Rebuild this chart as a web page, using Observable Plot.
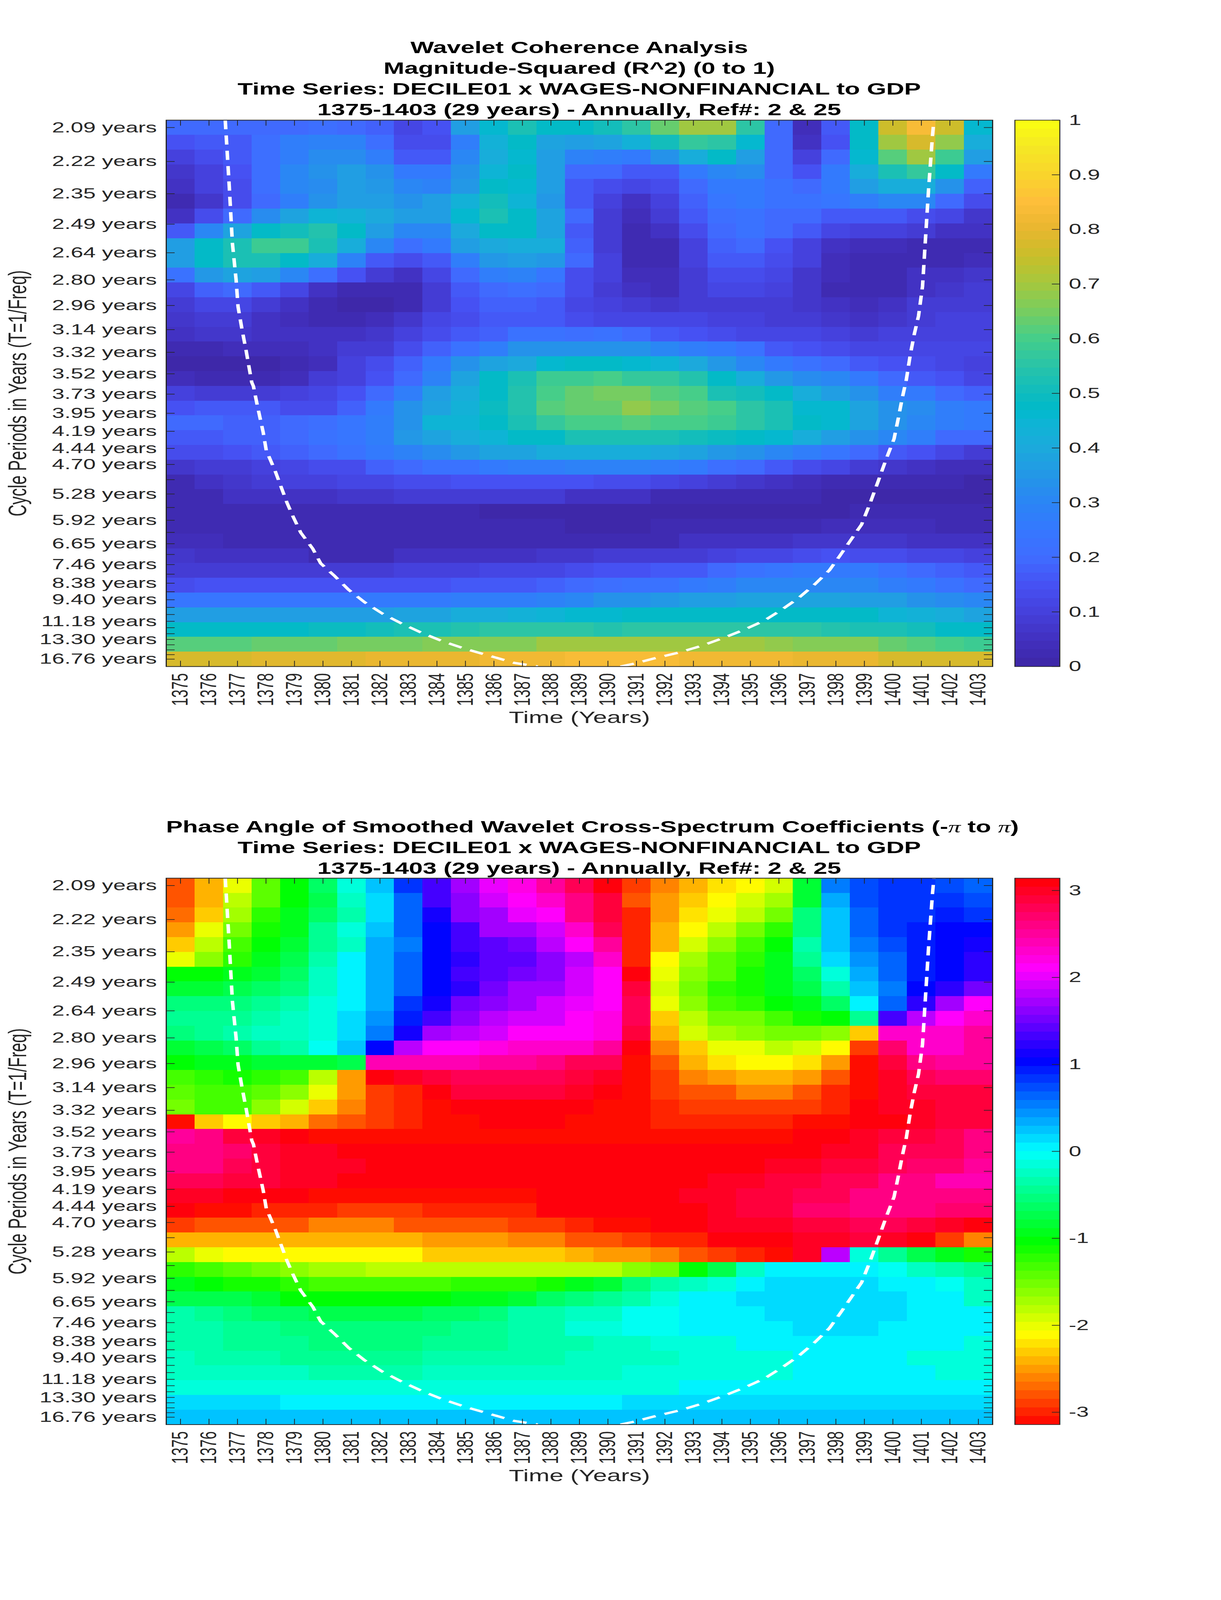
<!DOCTYPE html>
<html><head><meta charset="utf-8">
<script src="https://cdn.jsdelivr.net/npm/d3@7"></script>
<script src="https://cdn.jsdelivr.net/npm/@observablehq/plot@0.6"></script>
<style>
html,body{margin:0;padding:0;background:#fff;overflow:hidden}
/* Layout is authored at the reference's 3125x6252. The capture window was measured at 3125x4096,
   so the stage is compressed vertically only when the window is shorter than 6252. */
#stage{position:absolute;left:0;top:0;width:3125px;height:6252px;transform-origin:0 0;font-family:"Liberation Sans",Arial,sans-serif}
.t{position:absolute;left:425px;width:2115px;text-align:center;font-weight:bold;font-size:63.8px;line-height:81px;color:#000;white-space:nowrap}
.part{position:absolute}
.pi{font-family:"Liberation Serif",serif;font-style:italic;font-weight:normal}
</style></head><body>
<div id="stage">
<div class="t" style="top:146px">Wavelet Coherence Analysis<br>Magnitude-Squared (R^2) (0 to 1)<br>Time Series: DECILE01 x WAGES-NONFINANCIAL to GDP<br>1375-1403 (29 years) - Annually, Ref#: 2 &amp; 25</div>
<div class="t" style="top:3190px">Phase Angle of Smoothed Wavelet Cross-Spectrum Coefficients (-<span class="pi">π</span> to <span class="pi">π</span>)<br>Time Series: DECILE01 x WAGES-NONFINANCIAL to GDP<br>1375-1403 (29 years) - Annually, Ref#: 2 &amp; 25</div>
</div>
<script>
const years=[1375,1376,1377,1378,1379,1380,1381,1382,1383,1384,1385,1386,1387,1388,1389,1390,1391,1392,1393,1394,1395,1396,1397,1398,1399,1400,1401,1402,1403];
const periodTicks=[2.095,2.219,2.351,2.491,2.639,2.796,2.963,3.139,3.325,3.523,3.733,3.955,4.190,4.439,4.703,4.983,5.279,5.593,5.925,6.278,6.651,7.047,7.465,7.909,8.380,8.878,9.405,9.965,10.558,11.185,11.850,12.555,13.302,14.093,14.931,15.819,16.759];
const periodLabels=["2.09 years","2.22 years","2.35 years","2.49 years","2.64 years","2.80 years","2.96 years","3.14 years","3.32 years","3.52 years","3.73 years","3.95 years","4.19 years","4.44 years","4.70 years","","5.28 years","","5.92 years","","6.65 years","","7.46 years","","8.38 years","","9.40 years","","","11.18 years","","","13.30 years","","","","16.76 years"];
const coherenceTicks=[0,0.1,0.2,0.3,0.4,0.5,0.6,0.7,0.8,0.9,1];
const phaseTicks=[-3,-2,-1,0,1,2,3];
const coiYears=[1376.57,1376.71,1376.82,1376.95,1377.02,1377.16,1377.30,1377.50,1377.56,1377.69,1377.90,1378.01,1378.32,1378.53,1378.74,1378.95,1379.22,1379.64,1379.92,1380.41,1380.90,1381.46,1382.09,1382.79,1383.49,1384.19,1385.02,1385.86,1386.70,1387.54,null,1390.44,1390.87,1391.65,1392.50,1393.29,1394.07,1394.78,1395.49,1396.13,1396.70,1397.27,1397.77,1398.12,1398.48,1398.90,1399.19,1399.47,1399.76,1400.04,1400.19,1400.33,1400.47,1400.61,1400.75,1400.90,1401.04,1401.11,1401.18,1401.25,1401.32,1401.39,1401.44];
const coiFreq=[.4832,.4316,.3868,.3580,.3365,.3185,.3024,.2772,.2740,.2596,.2381,.2237,.2076,.1950,.1824,.1717,.1591,.1465,.1349,.1250,.1142,.1044,.0954,.0873,.0801,.0738,.0676,.0622,.0568,.0539,null,.0539,.0559,.0604,.0649,.0702,.0765,.0828,.0900,.0990,.1079,.1187,.1295,.1403,.1519,.1654,.1816,.1986,.2166,.2327,.2489,.2650,.2790,.2988,.3149,.3293,.3526,.3778,.4029,.4280,.4496,.4711,.4832];
const parulaStops=[0,.05,.1,.15,.2,.25,.3,.35,.4,.45,.47,.5,.55,.6,.65,.7,.75,.8,.85,.9,.95,1];
const parulaColors=["#3D26A5","#4230C0","#4540DC","#4652F4","#3F6CFF","#3578FF","#2B85F5","#2397E6","#1CAADC","#0CB5D4","#00BACA","#0FBCBE","#29C4A8","#44CE8A","#78CD60","#A4C83E","#C8BE2A","#E8B62F","#FEBE3A","#F9D52C","#F5E824","#FAFF10"];
const coherence=[
[.19,.19,.19,.2,.2,.21,.2,.18,.12,.15,.36,.46,.52,.47,.47,.5,.56,.63,.7,.7,.56,.2,.04,.17,.48,.76,.83,.75,.46],
[.15,.16,.17,.21,.27,.29,.29,.21,.14,.14,.27,.43,.47,.38,.37,.39,.43,.5,.57,.56,.46,.2,.06,.15,.47,.69,.77,.68,.42],
[.1,.13,.16,.21,.27,.32,.32,.27,.17,.17,.3,.42,.46,.36,.29,.28,.25,.33,.41,.47,.37,.19,.1,.2,.46,.62,.7,.58,.36],
[.07,.1,.15,.21,.3,.33,.36,.33,.25,.25,.33,.44,.47,.36,.2,.2,.16,.17,.25,.3,.32,.19,.15,.25,.41,.53,.57,.47,.25],
[.06,.1,.14,.21,.3,.32,.37,.35,.3,.29,.35,.47,.46,.36,.16,.14,.11,.13,.2,.25,.26,.22,.19,.26,.37,.42,.42,.33,.18],
[.03,.07,.13,.2,.28,.33,.36,.36,.33,.37,.43,.5,.44,.35,.16,.1,.06,.1,.18,.24,.26,.23,.22,.24,.28,.3,.3,.2,.14],
[.05,.14,.2,.32,.38,.44,.43,.4,.37,.37,.46,.53,.47,.38,.19,.09,.04,.08,.16,.21,.23,.2,.19,.17,.16,.16,.14,.11,.07],
[.16,.3,.39,.47,.5,.54,.47,.37,.3,.3,.4,.48,.47,.39,.17,.09,.03,.06,.13,.2,.22,.19,.16,.12,.1,.1,.08,.06,.05],
[.36,.47,.52,.58,.58,.53,.41,.31,.21,.25,.36,.4,.41,.41,.18,.09,.03,.03,.1,.18,.2,.15,.1,.06,.04,.04,.03,.03,.02],
[.36,.47,.53,.53,.47,.42,.29,.17,.13,.17,.27,.35,.37,.35,.19,.1,.03,.03,.1,.16,.16,.13,.1,.04,.02,.02,.03,.03,.04],
[.22,.35,.38,.36,.3,.21,.15,.08,.06,.12,.2,.27,.29,.24,.14,.1,.04,.04,.08,.14,.14,.11,.07,.04,.03,.03,.05,.06,.07],
[.11,.18,.2,.16,.12,.05,.03,.02,.03,.09,.16,.2,.21,.2,.13,.09,.06,.04,.08,.12,.12,.1,.07,.03,.02,.03,.05,.07,.09],
[.08,.11,.11,.08,.05,.02,.01,.01,.03,.09,.15,.18,.18,.16,.12,.1,.08,.07,.08,.08,.09,.09,.07,.05,.04,.05,.08,.08,.09],
[.07,.08,.08,.06,.04,.03,.02,.04,.07,.11,.14,.16,.17,.16,.14,.12,.12,.11,.11,.1,.1,.09,.08,.07,.06,.07,.09,.1,.1],
[.06,.07,.07,.06,.05,.05,.05,.07,.1,.14,.17,.18,.22,.22,.21,.22,.2,.17,.15,.14,.12,.11,.11,.1,.09,.1,.1,.1,.1],
[.03,.03,.04,.04,.04,.05,.08,.09,.13,.18,.23,.28,.33,.34,.34,.33,.33,.3,.28,.25,.22,.17,.15,.13,.11,.11,.11,.11,.11],
[.01,.01,.01,.01,.02,.04,.1,.14,.18,.25,.33,.38,.4,.46,.47,.47,.46,.45,.4,.35,.3,.26,.22,.19,.16,.15,.13,.12,.1],
[.04,.03,.03,.03,.04,.09,.1,.15,.2,.29,.38,.47,.52,.58,.58,.6,.57,.57,.54,.47,.42,.35,.32,.3,.26,.2,.17,.15,.12],
[.1,.09,.09,.09,.1,.12,.15,.19,.27,.36,.42,.47,.54,.6,.63,.65,.65,.62,.6,.53,.5,.47,.41,.37,.33,.28,.25,.2,.18],
[.15,.16,.16,.16,.14,.14,.18,.26,.33,.39,.43,.49,.54,.61,.64,.64,.68,.65,.62,.6,.56,.53,.46,.46,.38,.34,.32,.28,.25],
[.2,.19,.18,.18,.2,.21,.24,.28,.33,.45,.45,.48,.53,.57,.6,.6,.62,.6,.6,.58,.55,.53,.48,.46,.38,.34,.31,.28,.25],
[.17,.17,.18,.18,.2,.22,.24,.28,.35,.38,.42,.44,.47,.48,.52,.52,.52,.52,.51,.49,.48,.46,.42,.36,.34,.31,.27,.2,.19],
[.13,.14,.15,.16,.18,.19,.22,.26,.29,.32,.35,.38,.39,.41,.42,.41,.41,.4,.39,.35,.33,.3,.27,.24,.2,.16,.15,.11,.09],
[.07,.08,.09,.1,.12,.13,.14,.18,.19,.22,.23,.25,.28,.28,.29,.29,.29,.28,.25,.21,.19,.16,.13,.11,.08,.07,.05,.04,.04],
[.03,.05,.07,.09,.1,.1,.11,.12,.13,.14,.15,.15,.15,.15,.15,.13,.13,.11,.1,.08,.07,.05,.04,.03,.03,.02,.02,.02,.01],
[.03,.03,.05,.05,.05,.05,.07,.07,.08,.08,.08,.08,.08,.08,.06,.06,.05,.03,.03,.02,.02,.02,.02,.01,.01,.01,.01,.01,.01],
[.03,.03,.03,.03,.03,.02,.02,.02,.02,.02,.02,.01,.01,.01,.01,.01,.01,.01,.01,.01,.01,.01,.01,.01,.02,.02,.02,.02,.02],
[.02,.02,.02,.02,.02,.02,.02,.02,.02,.02,.02,.02,.02,.02,.005,0,0,.02,.02,.02,.03,.03,.03,.04,.04,.04,.04,.03,.03],
[.04,.04,.02,.02,.02,.02,.02,.02,.02,.02,.02,.02,.02,.02,.03,.02,.02,.03,.05,.05,.06,.06,.07,.07,.07,.07,.06,.06,.05],
[.07,.05,.05,.05,.05,.03,.03,.03,.05,.05,.05,.05,.05,.07,.07,.08,.09,.09,.09,.1,.12,.12,.14,.15,.14,.13,.12,.11,.1],
[.09,.09,.09,.09,.08,.08,.08,.08,.1,.1,.1,.11,.12,.12,.13,.15,.15,.16,.17,.2,.22,.24,.25,.25,.25,.23,.2,.18,.16],
[.14,.15,.15,.15,.15,.15,.15,.15,.15,.15,.16,.16,.17,.18,.19,.21,.22,.23,.25,.27,.3,.3,.31,.3,.3,.28,.26,.23,.2],
[.24,.24,.24,.24,.24,.24,.24,.25,.26,.26,.27,.28,.28,.29,.31,.33,.34,.35,.37,.37,.38,.38,.38,.38,.37,.36,.34,.32,.3],
[.36,.36,.36,.36,.36,.36,.37,.37,.38,.38,.41,.42,.43,.44,.46,.46,.47,.47,.47,.47,.48,.48,.47,.47,.47,.44,.43,.41,.38],
[.47,.47,.47,.47,.47,.49,.49,.5,.52,.53,.54,.55,.55,.56,.56,.54,.55,.55,.55,.55,.55,.55,.56,.54,.53,.52,.5,.48,.47],
[.61,.61,.61,.64,.64,.64,.65,.65,.65,.67,.67,.67,.67,.69,.7,.7,.7,.7,.7,.69,.69,.68,.67,.66,.66,.63,.62,.6,.58],
[.77,.77,.77,.79,.79,.79,.79,.8,.81,.81,.81,.82,.82,.82,.83,.83,.83,.83,.82,.82,.82,.82,.8,.8,.8,.77,.77,.77,.77]
];
const phase=[
[-2.76,-2.36,-1.97,-1.45,-1.05,-.65,-.17,.26,.79,1.35,1.75,2.0,2.2,2.55,2.8,3.1,-2.85,-2.6,-2.4,-2.2,-2.1,-1.95,-.79,.5,.7,.8,.8,.72,.62],
[-2.8,-2.4,-1.83,-1.4,-1.05,-.7,-.25,.1,.6,1.3,1.65,1.95,2.1,2.3,2.65,2.9,-2.8,-2.5,-2.35,-2.1,-1.95,-1.75,-.85,.33,.7,.8,.8,.8,.7],
[-2.7,-2.3,-1.75,-1.25,-.95,-.6,-.3,.1,.6,1.15,1.6,1.75,2.0,2.15,2.6,2.85,-2.95,-2.55,-2.25,-2.0,-1.85,-1.5,-.55,.25,.6,.8,.8,.95,.85],
[-2.5,-2.05,-1.55,-1.15,-.9,-.45,-.15,.25,.6,1.05,1.3,1.7,1.7,1.95,2.3,2.75,-2.95,-2.45,-2.15,-1.85,-1.5,-1.2,-.5,.2,.6,.8,.98,1.05,1.05],
[-2.3,-1.85,-1.3,-1.05,-.8,-.45,-.2,.3,.5,1.0,1.3,1.4,1.55,1.85,2.1,2.55,-2.95,-2.4,-1.95,-1.6,-1.3,-1.05,-.35,.2,.5,.7,.95,1.05,1.1],
[-1.97,-1.6,-1.25,-.95,-.75,-.3,0,.3,.65,1.05,1.2,1.4,1.45,1.65,1.85,2.3,-2.95,-2.1,-1.7,-1.45,-1.2,-.95,-.4,.1,.4,.65,.95,1.05,1.2],
[-1.05,-1.05,-.95,-.8,-.6,-.2,0,.3,.65,1.05,1.3,1.4,1.5,1.65,1.9,2.1,3.14,-2.05,-1.65,-1.4,-1.15,-.95,-.6,-.1,.3,.6,.95,1.05,1.25],
[-.85,-.8,-.75,-.6,-.5,-.2,0,.3,.65,1.05,1.25,1.55,1.7,1.75,1.9,2.15,2.85,-1.9,-1.5,-1.25,-1.15,-.95,-.75,-.3,.25,.55,1.05,1.25,1.55],
[-.55,-.5,-.5,-.4,-.3,-.1,0,.3,.8,1.15,1.55,1.65,1.75,1.9,2.0,2.15,2.75,-2.05,-1.6,-1.35,-1.2,-1.05,-.95,-.65,0,.6,1.2,1.75,2.1],
[-.45,-.45,-.45,-.3,-.25,-.1,.1,.4,.9,1.35,1.65,1.85,1.9,1.95,2.1,2.25,2.75,-2.3,-1.8,-1.55,-1.55,-1.35,-1.15,-1.05,-.4,1.3,1.85,2.15,2.3],
[-.55,-.4,-.3,-.25,-.2,-.1,.1,.55,1.15,1.7,1.85,1.95,2.1,2.1,2.1,2.25,2.85,-2.45,-1.95,-1.7,-1.6,-1.55,-1.5,-1.65,-2.3,2.3,2.3,2.3,2.5],
[-.8,-.7,-.6,-.45,-.35,-.05,.2,1.05,1.85,2.1,2.15,2.2,2.3,2.3,2.35,2.55,3.1,-2.6,-2.3,-2.05,-1.97,-1.85,-1.95,-2.15,-2.85,2.7,2.35,2.35,2.5],
[-1.05,-.95,-.95,-.85,-.8,-.8,-.75,2.45,2.45,2.45,2.45,2.5,2.5,2.6,2.75,2.8,-3.14,-2.8,-2.4,-2.2,-2.1,-2.1,-2.25,-2.55,-3.05,2.9,2.6,2.55,2.55],
[-1.35,-1.25,-1.15,-1.25,-1.35,-1.8,-2.55,3.14,2.95,2.85,2.8,2.8,2.8,2.8,2.85,3.0,-3.05,-2.85,-2.6,-2.55,-2.4,-2.4,-2.5,-2.8,-3.05,2.95,2.75,2.7,2.7],
[-1.45,-1.35,-1.35,-1.45,-1.6,-2.05,-2.55,-2.9,-3.0,3.05,2.9,2.9,2.9,2.9,2.95,3.05,-3.05,-2.85,-2.75,-2.75,-2.65,-2.65,-2.75,-3.0,-3.1,3.0,2.85,2.85,2.85],
[-1.55,-1.35,-1.3,-1.6,-1.95,-2.3,-2.65,-2.85,-3.0,-3.05,3.14,3.14,3.14,3.14,3.14,-3.05,-3.05,-2.95,-2.85,-2.85,-2.85,-2.85,-2.85,-3.0,3.14,3.0,2.95,2.9,2.9],
[-3.05,-2.35,-2.15,-2.35,-2.45,-2.7,-2.8,-2.9,-3.0,-3.05,-3.05,3.14,3.14,3.14,-3.05,-3.05,-3.05,-2.95,-2.95,-2.95,-2.95,-2.95,-3.05,-3.05,3.14,3.05,2.95,2.9,2.9],
[2.5,2.6,2.9,3.0,3.14,-3.05,-3.05,-3.05,-3.05,-3.05,-3.05,-3.05,-3.05,-3.05,-3.05,-3.05,-3.05,-3.05,-3.05,-3.05,-3.05,-3.05,3.14,3.14,3.0,2.9,2.85,2.8,2.65],
[2.6,2.6,2.7,2.85,3.0,3.0,3.14,3.14,3.14,3.14,3.14,3.14,3.14,3.14,3.14,3.14,3.14,3.14,3.14,3.14,3.14,3.05,3.05,2.95,2.95,2.8,2.75,2.75,2.6],
[2.6,2.6,2.75,2.85,2.95,3.0,3.0,3.14,3.14,3.14,3.14,3.14,3.14,3.14,3.14,3.14,3.14,3.05,3.05,3.05,3.05,2.95,2.95,2.9,2.9,2.75,2.7,2.7,2.5],
[2.75,2.75,2.9,2.9,3.0,3.0,3.14,3.14,3.14,3.14,3.14,3.14,3.14,3.14,3.14,3.14,3.05,3.05,3.05,2.95,2.95,2.85,2.85,2.75,2.75,2.6,2.6,2.45,2.45],
[3.0,3.0,3.05,3.14,3.14,-3.05,-3.05,-3.05,-3.05,-3.05,-3.05,-3.05,-3.05,3.14,3.14,3.14,3.05,3.05,2.95,2.95,2.9,2.9,2.75,2.75,2.65,2.65,2.65,2.6,2.6],
[3.14,-3.05,-3.05,-2.95,-2.95,-2.95,-2.85,-2.85,-2.85,-2.95,-2.95,-2.95,-2.95,3.14,3.14,3.14,3.14,3.05,3.05,2.95,2.9,2.85,2.7,2.7,2.6,2.6,2.6,2.7,2.7],
[-2.85,-2.75,-2.75,-2.75,-2.75,-2.65,-2.65,-2.65,-2.75,-2.75,-2.75,-2.75,-2.85,-2.85,-2.95,-3.05,-3.05,3.14,3.14,3.0,2.95,2.95,2.85,2.85,2.75,2.75,2.85,3.0,3.1],
[-2.45,-2.45,-2.45,-2.45,-2.45,-2.45,-2.45,-2.45,-2.45,-2.55,-2.55,-2.55,-2.65,-2.65,-2.75,-2.8,-2.85,-2.95,-3.0,3.14,3.05,3.05,3.0,3.0,2.9,3.0,3.14,-2.85,-2.6],
[-1.85,-1.97,-2.1,-2.1,-2.1,-2.15,-2.15,-2.15,-2.15,-2.3,-2.3,-2.35,-2.35,-2.35,-2.45,-2.55,-2.55,-2.6,-2.75,-2.85,-2.95,-3.05,3.0,1.85,-.15,-.45,-.7,-.95,-1.15],
[-1.2,-1.35,-1.45,-1.55,-1.6,-1.75,-1.75,-1.85,-1.85,-1.85,-1.85,-1.85,-1.85,-1.85,-1.85,-1.8,-1.65,-1.5,-1.05,-.75,-.25,0,0,0,0,-.08,-.2,-.3,-.45],
[-.9,-1.05,-1.1,-1.15,-1.2,-1.3,-1.3,-1.3,-1.3,-1.3,-1.2,-1.2,-1.2,-1.1,-.95,-.8,-.55,-.3,-.25,-.12,0,.1,.1,.1,.1,0,0,-.07,-.25],
[-.75,-.7,-.7,-.85,-1.0,-1.0,-1.05,-1.05,-1.05,-1.0,-.95,-.95,-.85,-.6,-.5,-.4,-.3,-.1,0,0,.1,.1,.1,.1,.1,.1,0,0,-.2],
[-.35,-.4,-.5,-.6,-.65,-.75,-.75,-.75,-.75,-.6,-.6,-.5,-.35,-.35,-.25,-.2,-.05,-.05,0,0,0,.1,.1,.1,.1,.1,0,0,0],
[-.35,-.35,-.4,-.4,-.55,-.55,-.55,-.55,-.55,-.55,-.4,-.4,-.3,-.3,-.15,-.15,-.05,-.05,0,0,0,0,.1,.1,.1,0,0,0,0],
[-.35,-.35,-.4,-.4,-.45,-.5,-.5,-.5,-.5,-.4,-.4,-.4,-.3,-.3,-.3,-.2,-.2,-.1,-.1,-.1,0,0,0,0,0,0,0,0,-.1],
[-.2,-.35,-.35,-.35,-.45,-.45,-.45,-.45,-.45,-.35,-.35,-.35,-.35,-.35,-.2,-.22,-.22,-.25,-.12,-.12,-.12,-.1,0,0,0,0,-.1,-.1,-.1],
[-.25,-.25,-.25,-.25,-.25,-.35,-.35,-.35,-.35,-.25,-.25,-.25,-.25,-.25,-.25,-.2,-.12,-.12,-.12,-.12,-.12,-.12,0,0,0,0,0,-.12,-.12],
[-.12,-.12,-.12,-.12,-.12,-.12,-.12,-.12,-.12,-.12,-.12,-.12,-.12,-.12,-.12,-.1,-.1,-.1,0,0,0,0,0,0,0,0,0,0,0],
[.1,.1,.1,.1,0,0,0,0,0,0,0,0,0,0,0,0,.1,.1,.1,.1,.1,.1,.1,.1,.1,.1,.1,.1,.1],
[.22,.22,.22,.22,.22,.22,.22,.22,.22,.22,.22,.22,.22,.22,.22,.22,.22,.22,.22,.22,.22,.22,.22,.22,.22,.22,.22,.22,.22]
];

const stage=document.getElementById("stage");
const fitY=Math.min(1,window.innerHeight/6252);
stage.style.transform=`scale(1,${fitY})`;
document.body.style.height=(6252*fitY)+"px";

const INK="#262626", FONT='"Liberation Sans",Arial,sans-serif';
const BANDS=64;
const parula=d3.scaleLinear().domain(parulaStops).range(parulaColors);
function bandScale(lo,hi,colorAt){
  const step=(hi-lo)/BANDS;
  return {step,
    color:{type:"threshold",
      domain:d3.range(1,BANDS).map(i=>lo+i*step),
      range:d3.range(BANDS).map(i=>colorAt((i+.5)/BANDS))}};
}
const cohScale=bandScale(0,1,t=>d3.rgb(parula(t)).formatHex());
const phaseScale=bandScale(-Math.PI,Math.PI,t=>d3.hsl(t*360,1,.5).formatHex());

const fTopTick=1/periodTicks[0], fBotTick=1/periodTicks[periodTicks.length-1];
const rowStep=(fTopTick-fBotTick)/(periodTicks.length-1);
const yDomain=[fBotTick-rowStep/2,fTopTick+rowStep/2];
const PW=2115,PH=2135,ML=425,MT=40,MB=330,MR=40,TICK=22;

function heatmap(rows,scale,top){
  const cells=rows.flatMap((r,i)=>r.map((v,j)=>({yr:years[j],f:fTopTick-i*rowStep,v})));
  const coi=coiYears.map((x,i)=>({x,y:coiFreq[i]}));
  const fig=Plot.plot({
    width:ML+PW+MR,height:MT+PH+MB,marginLeft:ML,marginRight:MR,marginTop:MT,marginBottom:MB,
    style:{fontFamily:FONT,color:INK,background:"transparent",overflow:"visible"},
    x:{domain:[1374.5,1403.5],axis:null},
    y:{domain:yDomain,axis:null},
    color:scale.color,
    marks:[
      Plot.rect(cells,{x1:d=>d.yr-.5,x2:d=>d.yr+.5,y1:d=>d.f-rowStep/2,y2:d=>d.f+rowStep/2,fill:"v",shapeRendering:"crispEdges"}),
      Plot.line(coi,{x:"x",y:"y",stroke:"white",strokeWidth:9,strokeDasharray:"36 24",strokeLinecap:"butt",strokeLinejoin:"round"}),
      Plot.tickX(years,{x:d=>d,insetBottom:PH-TICK,stroke:INK,strokeWidth:2}),
      Plot.tickX(years,{x:d=>d,insetTop:PH-TICK,stroke:INK,strokeWidth:2}),
      Plot.tickY(periodTicks.map(t=>1/t),{y:d=>d,insetRight:PW-TICK,stroke:INK,strokeWidth:2.5}),
      Plot.tickY(periodTicks.map(t=>1/t),{y:d=>d,insetLeft:PW-TICK,stroke:INK,strokeWidth:2.5}),
      Plot.frame({stroke:INK,strokeWidth:3}),
      Plot.axisX(years,{anchor:"bottom",tickSize:0,tickPadding:26,tickRotate:-90,tickFormat:d=>String(d),fontSize:57.5,label:null}),
      Plot.axisY(periodTicks.map(t=>1/t),{anchor:"left",tickSize:0,tickPadding:24,fontSize:57.5,label:null,
        tickFormat:(d,i)=>periodLabels[periodTicks.findIndex(t=>1/t===d)]}),
      Plot.text(["Time (Years)"],{frameAnchor:"bottom",dy:201,textAnchor:"middle",lineAnchor:"middle",fontSize:64,fill:INK}),
      Plot.text(["Cycle Periods in Years (T=1/Freq)"],{frameAnchor:"left",dx:-379,rotate:-90,textAnchor:"middle",lineAnchor:"middle",fontSize:64,fill:INK})
    ]});
  fig.classList.add("part");
  fig.style.left="0px";fig.style.top=(top-MT)+"px";
  stage.appendChild(fig);
}
function colorbar(scale,lo,hi,ticks,top){
  const levels=d3.range(BANDS).map(i=>({a:lo+i*scale.step,b:lo+(i+1)*scale.step,v:lo+(i+.5)*scale.step}));
  const BW=115;
  const fig=Plot.plot({
    width:BW+170,height:MT+PH+MB,marginLeft:0,marginRight:170,marginTop:MT,marginBottom:MB,
    style:{fontFamily:FONT,color:INK,background:"transparent",overflow:"visible"},
    x:{domain:[0,1],axis:null},
    y:{domain:[lo,hi],axis:null},
    color:scale.color,
    marks:[
      Plot.rect(levels,{x1:0,x2:1,y1:"a",y2:"b",fill:"v",shapeRendering:"crispEdges"}),
      Plot.tickY(ticks,{y:d=>d,insetLeft:BW-20,stroke:INK,strokeWidth:2.5}),
      Plot.frame({stroke:INK,strokeWidth:2.5}),
      Plot.axisY(ticks,{anchor:"right",tickSize:0,tickPadding:23,fontSize:57.5,label:null,tickFormat:d=>String(d)})
    ]});
  fig.classList.add("part");
  fig.style.left="2597px";fig.style.top=(top-MT)+"px";
  stage.appendChild(fig);
}
heatmap(coherence,cohScale,469);
colorbar(cohScale,0,1,coherenceTicks,469);
heatmap(phase,phaseScale,3431);
colorbar(phaseScale,-Math.PI,Math.PI,phaseTicks,3431);
</script>
</body></html>
